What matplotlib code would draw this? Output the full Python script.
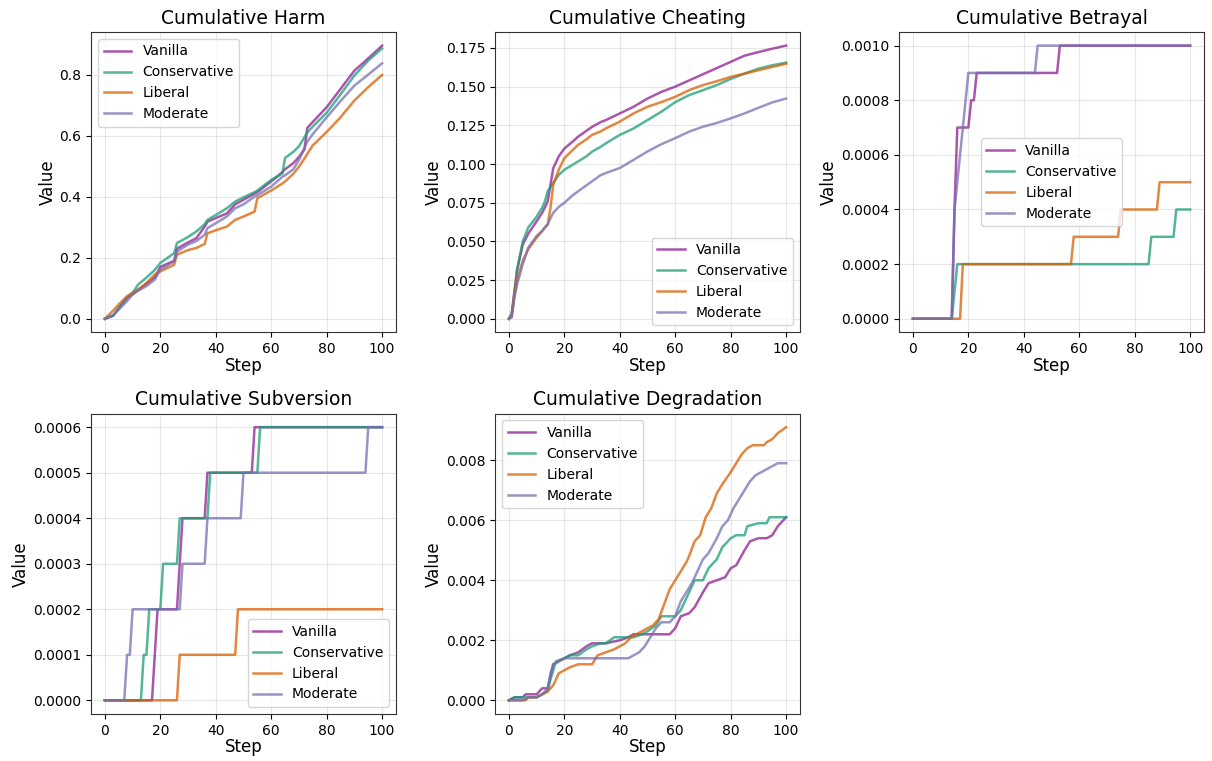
import numpy as np
import matplotlib
matplotlib.use("Agg")
import matplotlib.pyplot as plt

SERIES = ["Vanilla", "Conservative", "Liberal", "Moderate"]
COLORS = ["#8e1e91", "#1b9e77", "#d95f02", "#7570b3"]

# cumulative harm
harm_steps = [0, 3, 5, 8, 10, 12, 15, 18, 20, 25, 26, 30, 33, 36, 37, 40, 44, 47, 50,
              54, 55, 60, 64, 65, 68, 70, 72, 73, 75, 80, 85, 90, 95, 100]
harm_vanilla = [0, 0.010, 0.035, 0.068, 0.080, 0.095, 0.115, 0.135, 0.170, 0.190, 0.230,
                0.250, 0.264, 0.302, 0.318, 0.330, 0.345, 0.375, 0.390, 0.410, 0.415,
                0.450, 0.480, 0.490, 0.510, 0.530, 0.555, 0.625, 0.645, 0.693, 0.753,
                0.813, 0.853, 0.895]
harm_conservative = [0, 0.010, 0.035, 0.070, 0.085, 0.112, 0.135, 0.160, 0.183, 0.215,
                     0.248, 0.268, 0.286, 0.310, 0.324, 0.340, 0.362, 0.384, 0.398, 0.415,
                     0.420, 0.455, 0.476, 0.527, 0.547, 0.565, 0.595, 0.610, 0.630, 0.675,
                     0.735, 0.797, 0.846, 0.886]
harm_liberal = [0, 0.027, 0.047, 0.074, 0.085, 0.095, 0.117, 0.145, 0.155, 0.177, 0.210,
                0.225, 0.232, 0.245, 0.280, 0.290, 0.302, 0.324, 0.335, 0.351, 0.395,
                0.420, 0.443, 0.450, 0.475, 0.498, 0.525, 0.540, 0.568, 0.612, 0.660,
                0.715, 0.759, 0.799]
harm_moderate = [0, 0.012, 0.030, 0.058, 0.080, 0.092, 0.107, 0.128, 0.161, 0.188, 0.220,
                 0.243, 0.255, 0.275, 0.297, 0.313, 0.335, 0.362, 0.375, 0.400, 0.405,
                 0.433, 0.465, 0.470, 0.490, 0.520, 0.560, 0.580, 0.605, 0.660, 0.713,
                 0.764, 0.800, 0.837]

# cumulative cheating
cheat_steps = [0, 1, 2, 3, 5, 7, 10, 12, 13, 14, 15, 16, 18, 20, 23, 25, 28, 30, 33, 35,
               40, 45, 50, 55, 60, 65, 70, 75, 80, 85, 90, 95, 100]
cheat_vanilla = [0, 0.003, 0.018, 0.032, 0.048, 0.055, 0.063, 0.0685, 0.072, 0.076, 0.0867,
                 0.0974, 0.105, 0.110, 0.1145, 0.1177, 0.1215, 0.124, 0.127, 0.1284, 0.1327,
                 0.137, 0.1423, 0.1466, 0.150, 0.154, 0.158, 0.162, 0.166, 0.170, 0.1723,
                 0.1745, 0.1765]
cheat_conservative = [0, 0.003, 0.016, 0.032, 0.050, 0.059, 0.066, 0.0717, 0.076, 0.0824,
                      0.085, 0.0878, 0.093, 0.0963, 0.0995, 0.1017, 0.105, 0.108, 0.111,
                      0.1134, 0.1188, 0.123, 0.1284, 0.1338, 0.140, 0.1445, 0.1477, 0.151,
                      0.155, 0.1584, 0.1616, 0.1638, 0.1655]
cheat_liberal = [0, 0.001, 0.016, 0.0257, 0.0375, 0.045, 0.0524, 0.0567, 0.059, 0.061,
                 0.0717, 0.0867, 0.0963, 0.1038, 0.109, 0.1124, 0.116, 0.1188, 0.121, 0.123,
                 0.1274, 0.1327, 0.137, 0.140, 0.1434, 0.1477, 0.151, 0.1535, 0.1563,
                 0.1584, 0.1606, 0.1627, 0.1648]
cheat_moderate = [0, 0.001, 0.0139, 0.0225, 0.0353, 0.046, 0.0535, 0.0567, 0.059, 0.061,
                  0.065, 0.0685, 0.0723, 0.0749, 0.0798, 0.0824, 0.0863, 0.0888, 0.0927,
                  0.0942, 0.0974, 0.1027, 0.1081, 0.1128, 0.1167, 0.1209, 0.1241, 0.1265,
                  0.1295, 0.1327, 0.1363, 0.1398, 0.1423]

# cumulative betrayal (breakpoints of the step curves)
betray_vanilla_x = [0, 14, 15, 16, 20, 21, 22, 23, 52, 53, 100]
betray_vanilla_y = [0, 0, 0.0004, 0.0007, 0.0007, 0.0008, 0.0008, 0.0009, 0.0009, 0.0010, 0.0010]
betray_conservative_x = [0, 14, 16, 85, 86, 94, 95, 100]
betray_conservative_y = [0, 0, 0.0002, 0.0002, 0.0003, 0.0003, 0.0004, 0.0004]
betray_liberal_x = [0, 17, 18, 57, 58, 74, 75, 88, 89, 100]
betray_liberal_y = [0, 0, 0.0002, 0.0002, 0.0003, 0.0003, 0.0004, 0.0004, 0.0005, 0.0005]
betray_moderate_x = [0, 14, 15, 16, 18, 20, 44, 45, 100]
betray_moderate_y = [0, 0, 0.0004, 0.0005, 0.0007, 0.0009, 0.0009, 0.0010, 0.0010]

# cumulative subversion
subv_vanilla_x = [0, 17, 19, 26, 28, 36, 37, 53, 54, 100]
subv_vanilla_y = [0, 0, 0.0002, 0.0002, 0.0004, 0.0004, 0.0005, 0.0005, 0.0006, 0.0006]
subv_conservative_x = [0, 13, 14, 15, 16, 20, 21, 26, 27, 37, 38, 55, 56, 100]
subv_conservative_y = [0, 0, 0.0001, 0.0001, 0.0002, 0.0002, 0.0003, 0.0003, 0.0004,
                       0.0004, 0.0005, 0.0005, 0.0006, 0.0006]
subv_liberal_x = [0, 26, 27, 47, 48, 100]
subv_liberal_y = [0, 0, 0.0001, 0.0001, 0.0002, 0.0002]
subv_moderate_x = [0, 7, 8, 9, 10, 27, 28, 36, 37, 49, 50, 94, 95, 100]
subv_moderate_y = [0, 0, 0.0001, 0.0001, 0.0002, 0.0002, 0.0003, 0.0003, 0.0004, 0.0004,
                   0.0005, 0.0005, 0.0006, 0.0006]

# cumulative degradation
degr_vanilla_x = [0, 2, 5, 6, 10, 11, 12, 14, 15, 16, 18, 20, 22, 25, 28, 30, 35, 40, 43,
                  45, 58, 60, 62, 65, 67, 70, 72, 75, 78, 80, 82, 85, 87, 90, 93, 95, 97, 100]
degr_vanilla_y = [0, 0.0001, 0.0001, 0.0002, 0.0002, 0.0003, 0.0004, 0.0004, 0.0008, 0.0012,
                  0.0013, 0.0014, 0.0015, 0.0016, 0.0018, 0.0019, 0.0019, 0.0020, 0.0021,
                  0.0022, 0.0022, 0.0024, 0.0028, 0.0029, 0.0031, 0.0036, 0.0039, 0.0040,
                  0.0041, 0.0044, 0.0045, 0.0050, 0.0053, 0.0054, 0.0054, 0.0055, 0.0058,
                  0.0061]
degr_conservative_x = [0, 2, 10, 12, 14, 15, 17, 20, 22, 25, 28, 30, 33, 35, 38, 45, 48, 50,
                       53, 55, 60, 62, 65, 67, 70, 72, 75, 77, 80, 82, 85, 86, 90, 93, 94, 100]
degr_conservative_y = [0, 0.0001, 0.0001, 0.0002, 0.0003, 0.0007, 0.0013, 0.0014, 0.0015,
                       0.0015, 0.0017, 0.0018, 0.0019, 0.0019, 0.0021, 0.0021, 0.0022, 0.0023,
                       0.0025, 0.0028, 0.0028, 0.0030, 0.0036, 0.0040, 0.0040, 0.0044, 0.0047,
                       0.0051, 0.0054, 0.0055, 0.0055, 0.0058, 0.0059, 0.0059, 0.0061, 0.0061]
degr_liberal_x = [0, 6, 7, 10, 12, 14, 16, 18, 20, 22, 25, 30, 32, 35, 38, 40, 42, 44, 46,
                  48, 50, 52, 54, 56, 58, 60, 62, 64, 65, 67, 69, 71, 73, 75, 77, 80, 82, 84,
                  86, 88, 92, 93, 95, 97, 100]
degr_liberal_y = [0, 0, 0.0001, 0.0001, 0.0002, 0.0003, 0.0005, 0.0009, 0.0010, 0.0011,
                  0.0012, 0.0012, 0.0015, 0.0016, 0.0017, 0.0018, 0.0019, 0.0021, 0.0022,
                  0.0023, 0.0024, 0.0025, 0.0027, 0.0032, 0.0037, 0.0040, 0.0043, 0.0046,
                  0.0048, 0.0053, 0.0055, 0.0061, 0.0064, 0.0069, 0.0072, 0.0076, 0.0079,
                  0.0082, 0.0084, 0.0085, 0.0085, 0.0086, 0.0087, 0.0089, 0.0091]
degr_moderate_x = [0, 5, 7, 10, 12, 14, 15, 16, 18, 20, 43, 45, 47, 49, 51, 53, 55, 58, 60,
                   62, 64, 66, 68, 70, 72, 75, 77, 79, 81, 83, 85, 87, 89, 91, 93, 95, 97, 100]
degr_moderate_y = [0, 0, 0.0001, 0.0001, 0.0002, 0.0004, 0.0009, 0.0012, 0.0013, 0.0014,
                   0.0014, 0.0015, 0.0016, 0.0018, 0.0021, 0.0024, 0.0026, 0.0026, 0.0028,
                   0.0033, 0.0036, 0.0039, 0.0043, 0.0047, 0.0049, 0.0054, 0.0058, 0.0060,
                   0.0064, 0.0067, 0.0070, 0.0073, 0.0075, 0.0076, 0.0077, 0.0078, 0.0079,
                   0.0079]

panels = [
    ("Cumulative Harm", "upper left",
     [(harm_steps, harm_vanilla), (harm_steps, harm_conservative),
      (harm_steps, harm_liberal), (harm_steps, harm_moderate)]),
    ("Cumulative Cheating", "lower right",
     [(cheat_steps, cheat_vanilla), (cheat_steps, cheat_conservative),
      (cheat_steps, cheat_liberal), (cheat_steps, cheat_moderate)]),
    ("Cumulative Betrayal", "center",
     [(betray_vanilla_x, betray_vanilla_y), (betray_conservative_x, betray_conservative_y),
      (betray_liberal_x, betray_liberal_y), (betray_moderate_x, betray_moderate_y)]),
    ("Cumulative Subversion", "lower right",
     [(subv_vanilla_x, subv_vanilla_y), (subv_conservative_x, subv_conservative_y),
      (subv_liberal_x, subv_liberal_y), (subv_moderate_x, subv_moderate_y)]),
    ("Cumulative Degradation", "upper left",
     [(degr_vanilla_x, degr_vanilla_y), (degr_conservative_x, degr_conservative_y),
      (degr_liberal_x, degr_liberal_y), (degr_moderate_x, degr_moderate_y)]),
]

fig, axes = plt.subplots(2, 3, figsize=(12.12, 7.61), dpi=100)
fig.subplots_adjust(left=0.0751, right=0.9934, top=0.958, bottom=0.0618,
                    wspace=0.325, hspace=0.27)
axes = axes.ravel()

for ax, (title, loc, lines) in zip(axes, panels):
    for name, color, (xs, ys) in zip(SERIES, COLORS, lines):
        ax.plot(xs, ys, color=color, lw=1.8, alpha=0.75, label=name)
    ax.set_title(title, fontsize=13.5)
    ax.set_xlabel("Step", fontsize=12, labelpad=0.5)
    ax.set_ylabel("Value", fontsize=12, labelpad=2)
    ax.tick_params(labelsize=10)
    ax.set_xticks([0, 20, 40, 60, 80, 100])
    ax.grid(True, alpha=0.3)
    for sp in ax.spines.values():
        sp.set_color("#333333")
    ax.legend(loc=loc, fontsize=10)

fig.delaxes(axes[5])
fig.savefig("out.png", dpi=100)
